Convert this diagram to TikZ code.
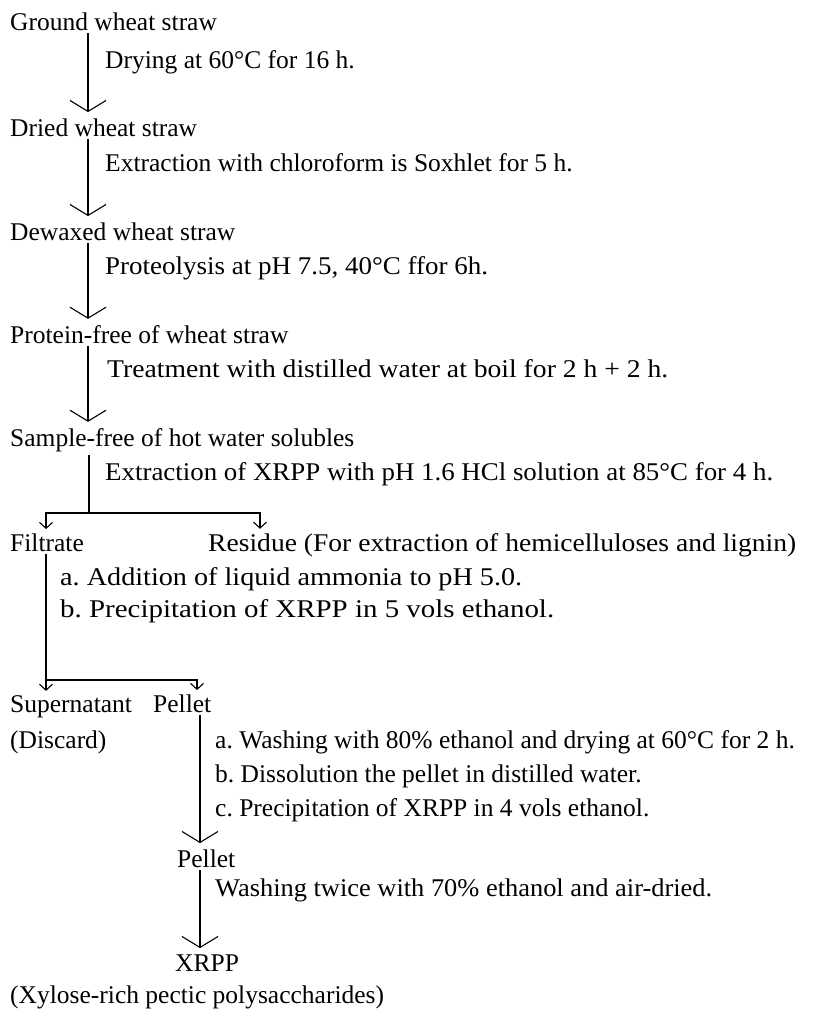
\documentclass[tikz,border=0pt]{standalone}
\usepackage{fontspec}
\setmainfont{Liberation Serif}
\usepackage{graphicx}
\usepackage{tikz}
\usetikzlibrary{arrows.meta}
\frenchspacing
% widen a line to the width it has in the scan
\newcommand{\wideline}[2]{\resizebox{#1}{\height}{#2}}

\begin{document}
\begin{tikzpicture}[x=1pt,y=-1pt,
    font=\fontsize{25.5pt}{30pt}\selectfont,
    txt/.style={anchor=base west, inner sep=0pt},
    flow/.style={line width=1.1pt, -{Straight Barb[length=11pt,width=36pt,line width=1.1pt]},
                 shorten <=3pt, shorten >=6pt},
    smallflow/.style={line width=1.1pt, -{Straight Barb[length=6pt,width=13pt,line width=1.1pt]},
                 shorten >=4pt},
    plain/.style={line width=1.1pt, shorten <=3pt}]
\useasboundingbox (0,0) rectangle (814,1009);

% main column
\coordinate (trunk) at (88,0);
\node[txt] (ground) at (10,30) {Ground wheat straw};
\node[txt] (s1) at (105,68) {Drying at 60°C for 16 h.};
\node[txt] (dried) at (10,136) {Dried wheat straw};
\node[txt] (s2) at (105,171) {Extraction with chloroform is Soxhlet for 5 h.};
\node[txt] (dewaxed) at (10,240) {Dewaxed wheat straw};
\node[txt] (s3) at (105,274) {\wideline{383pt}{Proteolysis at pH 7.5, 40°C ffor 6h.}};
\node[txt] (protfree) at (10,343) {Protein-free of wheat straw};
\node[txt] (s4) at (107,377) {\wideline{561pt}{Treatment with distilled water at boil for 2 h + 2 h.}};
\node[txt] (samplefree) at (10,446) {Sample-free of hot water solubles};
\node[txt] (s5) at (105,480) {\wideline{668pt}{Extraction of XRPP with pH 1.6 HCl solution at 85°C for 4 h.}};

\draw[flow] (ground.south -| trunk) -- (dried.north -| trunk);
\draw[flow] (dried.south -| trunk) -- (dewaxed.north -| trunk);
\draw[flow] (dewaxed.south -| trunk) -- (protfree.north -| trunk);
\draw[flow] (protfree.south -| trunk) -- (samplefree.north -| trunk);

% first split
\coordinate (split1) at (89,513);
\coordinate (fx) at (46,513);
\coordinate (rx) at (260,513);
\node[txt] (filtrate) at (10,551) {Filtrate};
\node[txt] (residue) at (208,551) {\wideline{588pt}{Residue (For extraction of hemicelluloses and lignin)}};
\draw[plain] (samplefree.south -| split1) -- (split1);
\draw[smallflow] (split1) -| (filtrate.north -| fx);
\draw[smallflow] (split1) -| (residue.north -| rx);

\node[txt] (s6a) at (60,585) {\wideline{462pt}{a. Addition of liquid ammonia to pH 5.0.}};
\node[txt] (s6b) at (60,617) {\wideline{494pt}{b. Precipitation of XRPP in 5 vols ethanol.}};

% second split
\coordinate (split2) at (46,680);
\coordinate (px) at (197,680);
\node[txt] (supern) at (10,712) {Supernatant};
\node[txt] (discard) at (10,748) {(Discard)};
\node[txt] (pellet) at (153,712) {Pellet};
\draw[plain] (filtrate.south -| split2) -- (split2);
\draw[smallflow] (split2) -- (supern.north -| split2);
\draw[smallflow] (split2) -| (pellet.north -| px);

% pellet column
\coordinate (pcol) at (200,0);
\node[txt] (s7a) at (215,748) {a. Washing with 80\% ethanol and drying at 60°C for 2 h.};
\node[txt] (s7b) at (215,782) {b. Dissolution the pellet in distilled water.};
\node[txt] (s7c) at (215,816) {c. Precipitation of XRPP in 4 vols ethanol.};
\node[txt] (pellet2) at (177,867) {Pellet};
\node[txt] (s8) at (215,896) {\wideline{497pt}{Washing twice with 70\% ethanol and air-dried.}};
\node[txt] (xrpp) at (175,971) {XRPP};
\node[txt] (xylose) at (10,1003) {(Xylose-rich pectic polysaccharides)};

\draw[flow] (pellet.south -| pcol) -- (pellet2.north -| pcol);
\draw[flow] (pellet2.south -| pcol) -- (xrpp.north -| pcol);
\end{tikzpicture}
\end{document}
